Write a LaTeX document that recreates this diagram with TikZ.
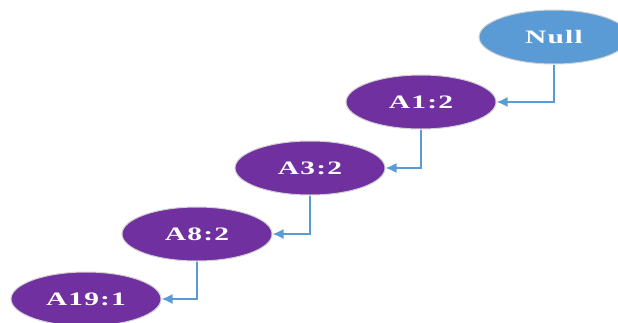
\documentclass[tikz,border=0pt]{standalone}
\usepackage{fontspec}
\setmainfont{Liberation Serif}
\newfontfamily\labelfont[LetterSpace=4]{Liberation Serif}
\usetikzlibrary{shapes.geometric,arrows.meta}
\definecolor{nodepurple}{HTML}{7030A0}
\definecolor{nodeblue}{HTML}{5B9BD5}
\newcommand{\lbltext}[1]{\scalebox{1.55}[1]{\labelfont\bfseries\fontsize{19}{19}\selectfont #1}}
\tikzset{
  oval/.style={ellipse, minimum width=150pt, minimum height=54pt, inner sep=0pt,
    draw=gray!35, line width=1pt, text=white},
  lnk/.style={draw=nodeblue, line width=1.8pt, -{Latex[length=11pt,width=10pt]}}
}
\begin{document}
\begin{tikzpicture}[x=1pt,y=-1pt]
\useasboundingbox (0,0) rectangle (618,322);
\clip (0,0) rectangle (618,322);
\node[oval, fill=nodeblue] (n0) at (554,37) {\lbltext{Null}};
\node[oval, fill=nodepurple] (n1) at (421,102) {\lbltext{A1:2}};
\node[oval, fill=nodepurple] (n2) at (310,168) {\lbltext{A3:2}};
\node[oval, fill=nodepurple] (n3) at (197,234) {\lbltext{A8:2}};
\node[oval, fill=nodepurple] (n4) at (86,299) {\lbltext{A19:1}};
\draw[lnk] (n0.south) |- (n1.east);
\draw[lnk] (n1.south) |- (n2.east);
\draw[lnk] (n2.south) |- (n3.east);
\draw[lnk] (n3.south) |- (n4.east);
\end{tikzpicture}
\end{document}
